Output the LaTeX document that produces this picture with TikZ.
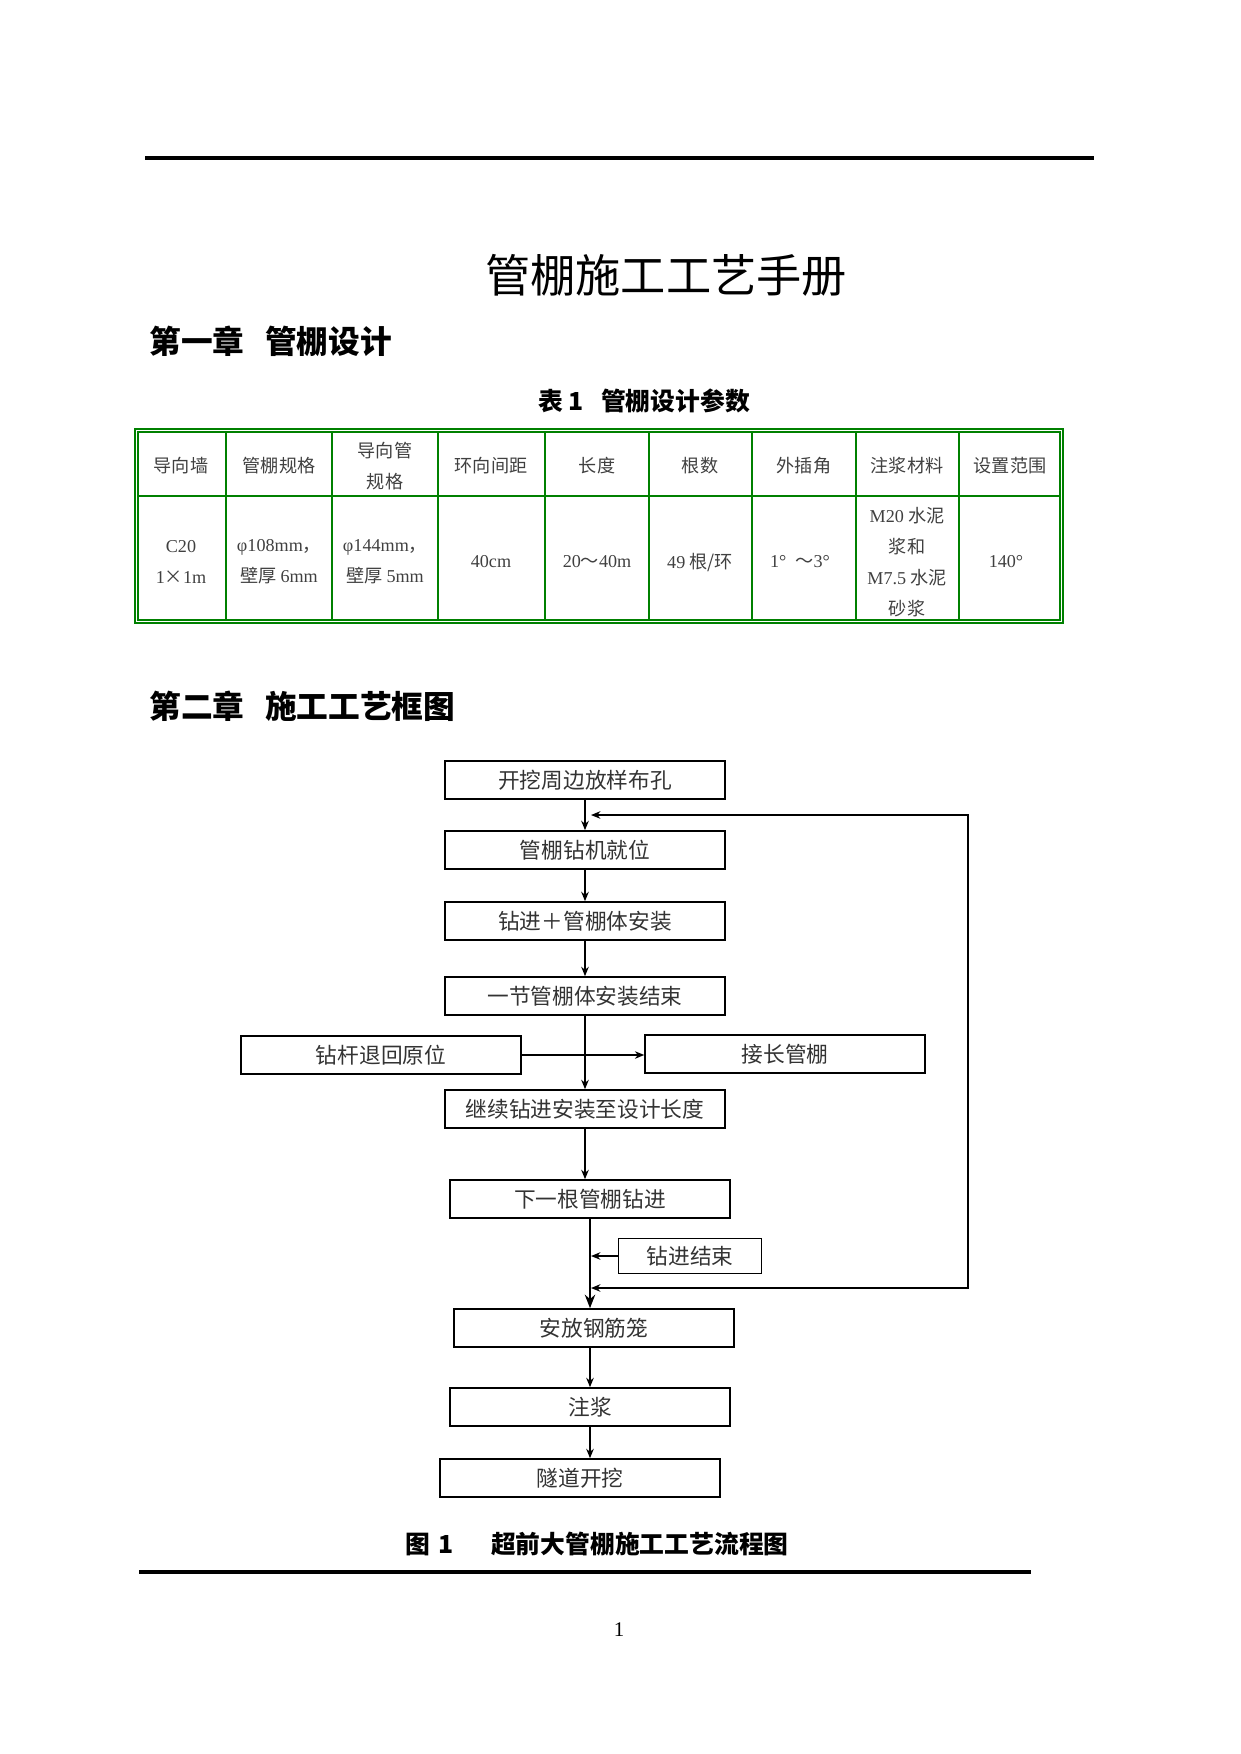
\documentclass[tikz,border=0pt]{standalone}
\usepackage{fontspec}
\setmainfont{Liberation Serif}
\newfontfamily\cjk{Noto Sans CJK SC}
\usetikzlibrary{arrows.meta}

\definecolor{tabgreen}{RGB}{0,128,0}
\newcommand\latn[1]{{\rmfamily #1}}

\tikzset{
 stepbox/.style={draw, line width=0.7pt, minimum width=134.3pt, minimum height=18.3pt,
 inner sep=0pt, text=black!80, font=\cjk\fontsize{10.4}{12}\selectfont},
 arr/.style={-{Stealth[length=4.5pt,width=3.6pt]}, line width=0.9pt},
 bigarr/.style={-{Stealth[length=6.5pt,width=5pt]}, line width=0.9pt},
 cell/.style={align=center, inner sep=0pt, text=black!75,
 font=\cjk\fontsize{8.7}{14.9}\selectfont},
 thinrule/.style={tabgreen, line width=0.5pt},
 thickrule/.style={tabgreen, line width=1pt},
 heading/.style={anchor=west, inner sep=0pt, font=\cjk\bfseries\fontsize{15.2}{18}\selectfont},
 captext/.style={inner sep=0pt, font=\cjk\bfseries\fontsize{11.9}{14}\selectfont},
}

\begin{document}
\begin{tikzpicture}[x=0.4797pt,y=-0.4797pt]
 \useasboundingbox (0,0) rectangle (1241,1754);
 % page rules
 \draw[line width=1.9pt] (145,158) -- (1094,158);
 \draw[line width=1.7pt] (139,1572) -- (1031,1572);

 \node[inner sep=0pt, font=\cjk\fontsize{21.7}{24}\selectfont] (title) at (666,275) {管棚施工工艺手册};
 \node[heading] (ch1) at (149,341) {第一章\hspace{0.65em}管棚设计};
 \node[captext] (tabcap) at (644,401) {表 1\hspace{0.7em}管棚设计参数};

 % table frame
 \draw[thinrule] (135,429) rectangle (1063,623);
 \draw[thinrule] (138,432) rectangle (1060,620);
 \draw[thinrule] (138,496) -- (1060,496);
 \foreach \x in {332,545,752,959}
 \draw[thinrule] (\x,432) -- (\x,620);
 \foreach \x in {226,438,649,856}
 \draw[thickrule] (\x,432) -- (\x,620);

 % table header
 \node[cell] (h1) at (181,466) {导向墙};
 \node[cell] (h2) at (279,466) {管棚规格};
 \node[cell] (h3) at (385,466) {导向管\\规格};
 \node[cell] (h4) at (491,466) {环向间距};
 \node[cell] (h5) at (597,466) {长度};
 \node[cell] (h6) at (700,466) {根数};
 \node[cell] (h7) at (804,466) {外插角};
 \node[cell] (h8) at (907,466) {注浆材料};
 \node[cell] (h9) at (1010,466) {设置范围};
 % table body
 \node[cell] (d1) at (181,562) {\latn{C20}\\\latn{1}×\latn{1m}};
 \node[cell] (d2) at (279,562) {\latn{φ108mm}，\\壁厚 \latn{6mm}};
 \node[cell] (d3) at (385,562) {\latn{φ144mm}，\\壁厚 \latn{5mm}};
 \node[cell] (d4) at (491,562) {\latn{40cm}};
 \node[cell] (d5) at (597,562) {\latn{20}～\latn{40m}};
 \node[cell] (d6) at (700,562) {\latn{49} 根/环};
 \node[cell] (d7) at (800,562) {\latn{1°}\hspace{0.5em}～\latn{3°}};
 \node[cell] (d8) at (907,562) {\latn{M20} 水泥\\浆和\\\latn{M7.5} 水泥\\砂浆};
 \node[cell] (d9) at (1006,562) {\latn{140°}};

 \node[heading] (ch2) at (149,706) {第二章\hspace{0.65em}施工工艺框图};

 % flow chart
 \node[stepbox] (b1) at (585,780) {开挖周边放样布孔};
 \node[stepbox] (b2) at (585,850) {管棚钻机就位};
 \node[stepbox] (b3) at (585,921) {钻进＋管棚体安装};
 \node[stepbox] (b4) at (585,996) {一节管棚体安装结束};
 \node[stepbox] (b5) at (381,1055) {钻杆退回原位};
 \node[stepbox] (b6) at (785,1054) {接长管棚};
 \node[stepbox] (b7) at (585,1109) {继续钻进安装至设计长度};
 \node[stepbox] (b8) at (590,1199) {下一根管棚钻进};
 \node[stepbox, minimum width=68.6pt, minimum height=16.8pt] (b9) at (690,1256) {钻进结束};
 \node[stepbox] (b10) at (594,1328) {安放钢筋笼};
 \node[stepbox] (b11) at (590,1407) {注浆};
 \node[stepbox] (b12) at (580,1478) {隧道开挖};

 \draw[arr] (b1) -- (b2);
 \draw[arr] (b2) -- (b3);
 \draw[arr] (b3) -- (b4);
 \draw[arr] (b4) -- (b7);
 \draw[arr] (b5.east) -- (b5.east -| b6.west);
 \draw[arr] (b7.south) -- (b7.south |- b8.north);
 \draw[bigarr] (b8.south) -- (b8.south |- b10.north);
 \coordinate (j9) at (591,1256);
 \draw[arr] (b9.west) -- (j9);
 % return loop
 \coordinate (lpB) at (591,1288);
 \coordinate (lpT) at (591,815);
 \draw[line width=1pt, {Stealth[length=4.5pt,width=3.6pt]}-{Stealth[length=4.5pt,width=3.6pt]}]
 (lpB) -- ++(377,0) |- (lpT);
 \draw[arr] (b11.north |- b10.south) -- (b11.north);
 \draw[arr] (b11.south) -- (b11.south |- b12.north);

 \node[captext] (figcap) at (597,1544) {图\hspace{0.35em}1\hspace{1.5em}超前大管棚施工工艺流程图};
 \node[inner sep=0pt, font=\fontsize{10}{12}\selectfont] (pageno) at (619,1630) {1};
\end{tikzpicture}
\end{document}
